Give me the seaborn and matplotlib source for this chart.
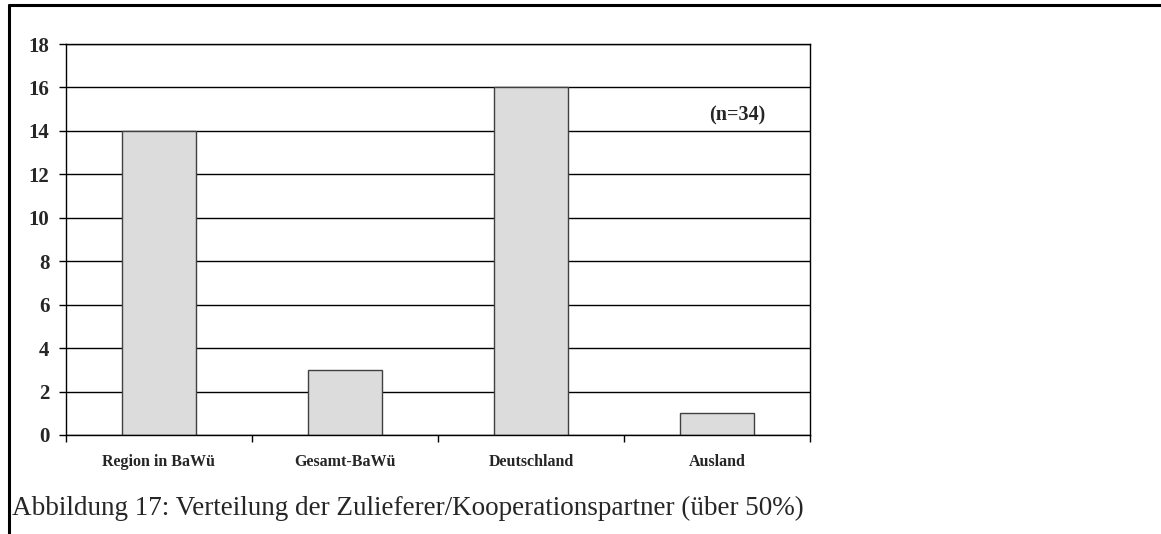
import matplotlib.pyplot as plt
import numpy as np
import pandas as pd
import seaborn as sns
from matplotlib.lines import Line2D

sns.set_theme(style="white")
plt.rcParams["font.family"] = ["Liberation Serif", "DejaVu Serif"]

categories = ["Region in BaWü", "Gesamt-BaWü", "Deutschland", "Ausland"]
counts = [14, 3, 16, 1]
y_ticks = list(range(0, 19, 2))
note = "(n=34)"
caption = "Abbildung 17: Verteilung der Zulieferer/Kooperationspartner (über 50%)"

df = pd.DataFrame({"Bereich": categories, "Anzahl": counts})

fig = plt.figure(figsize=(11.61, 5.34), dpi=100)
ax = fig.add_axes([66 / 1161, 1 - 435 / 534, 744 / 1161, 391 / 534])

sns.barplot(
    data=df,
    x="Bereich",
    y="Anzahl",
    color="#DCDCDC",
    edgecolor="#404040",
    linewidth=1,
    width=0.4,
    saturation=1,
    ax=ax,
)
ax.set_xlim(-0.5, len(categories) - 0.5)
ax.set_ylim(0, 18)
ax.set_yticks(y_ticks)
ax.set_axisbelow(True)
ax.yaxis.grid(True, color="black", linewidth=1)
ax.set_xlabel("")
ax.set_ylabel("")

# category separators as ticks below the axis
ax.set_xticks(np.arange(-0.5, len(categories), 1.0), minor=True)
ax.tick_params(axis="x", which="minor", direction="out", length=5, width=1, color="black", bottom=True)
ax.tick_params(axis="x", which="major", length=0, pad=14)
ax.tick_params(axis="y", direction="out", length=5, width=1, color="black", left=True, pad=7)
for lbl in ax.get_xticklabels():
    lbl.set_fontweight("bold")
    lbl.set_fontsize(11.5)
for lbl in ax.get_yticklabels():
    lbl.set_fontweight("bold")
    lbl.set_fontsize(15)
for spine in ax.spines.values():
    spine.set_visible(True)
    spine.set_color("black")
    spine.set_linewidth(1)

ax.text(0.902, 0.818, note, transform=ax.transAxes, ha="center", va="center",
        fontsize=14.5, fontweight="bold")

# outer frame (top and left edges)
fig.add_artist(Line2D([9 / 1161, 1], [1 - 5 / 534, 1 - 5 / 534], color="black", linewidth=2.2))
fig.add_artist(Line2D([9 / 1161, 9 / 1161], [0, 1 - 5 / 534], color="black", linewidth=2.2))

fig.text(12 / 1161, 1 - 508 / 534, caption, ha="left", va="center", fontsize=19.5)

fig.savefig("out.png", dpi=100)
